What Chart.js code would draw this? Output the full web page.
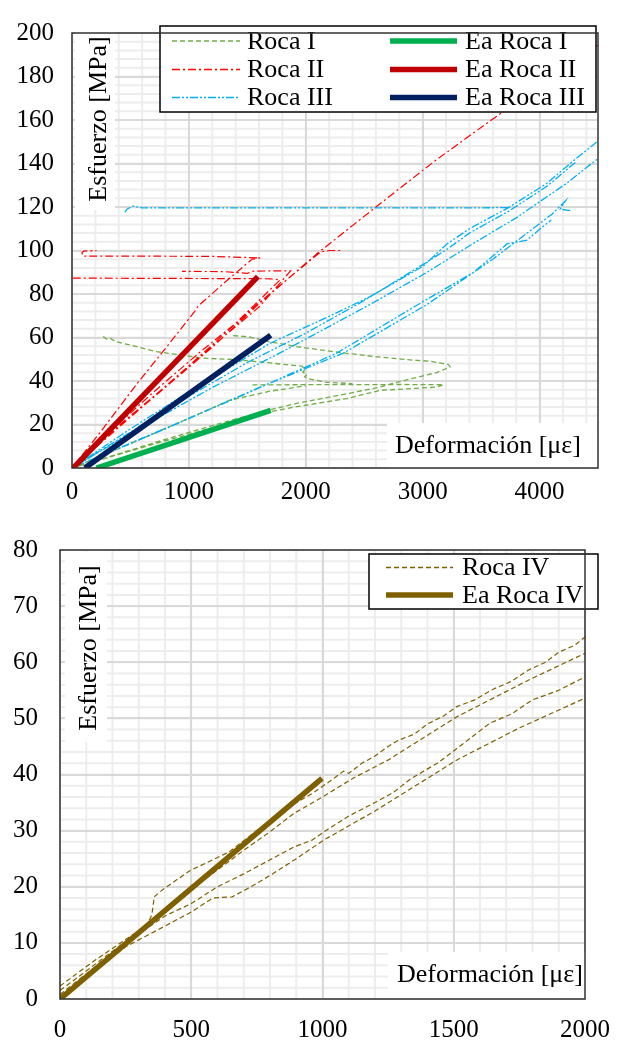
<!DOCTYPE html>
<html><head><meta charset="utf-8">
<script src="https://cdn.jsdelivr.net/npm/chart.js@4.4.0/dist/chart.umd.min.js"></script>
<style>
html,body{margin:0;padding:0;background:#fff;}
#w1{position:absolute;left:0;top:0;width:626px;height:510px;}
#w2{position:absolute;left:0;top:510px;width:626px;height:532px;}
</style></head><body>
<div id="w1"><canvas id="c1" width="626" height="510"></canvas></div>
<div id="w2"><canvas id="c2" width="626" height="532"></canvas></div>
<script>
// ===== Top chart: tick labels =====
const topXTicks = [0,1000,2000,3000,4000];
const topYTicks = [0,20,40,60,80,100,120,140,160,180,200];

// ===== Roca I (green dashed) =====
const rocaI_x1 = [0,350,700,1000,1300,1636,1922,2350,2635,2900,3121,3178,2800,2400,2000,1520];
const rocaI_y1 = [0,5.5,11,15.5,20,25.3,28.2,31.9,35.7,36.5,37.2,38.3,38.4,38.3,38.3,38.2];
const rocaI_x2 = [266,300,330,370,552,723,922,1122,1408,1693,1965,1995,1975,2010,1990,2021,2179,2400];
const rocaI_y2 = [60.5,59.2,59.6,58.2,55.8,53.5,52,50.5,49.8,48.3,46.8,45.5,44,43,42,41,39.4,38.8];
const rocaI_x3 = [1379,1522,1693,1922,2293,2578,2864,3064,3220,3235,3121,2778,2635,2293,1922,1636,1200,800,400,0];
const rocaI_y3 = [60.9,60.2,58,55.8,53.1,51.3,49.8,49.1,47.6,46.5,43.9,39.4,37.2,33.5,29.7,26,19.5,13.2,6.5,0];
const rocaI_x4 = [0,450,900,1351,1693,2000];
const rocaI_y4 = [0,10,20.5,31.2,35.3,37.8];

// ===== Roca II (red dash-dot) =====
const rocaII_x1 = [0,250,560,800,1050,1080,1300,1540,1610,1200,600,92,85,100,210];
const rocaII_y1 = [0,17,39,55,72,74.5,85,96,96.6,97.3,97.4,97.4,99,99.7,100];
const rocaII_x2 = [0,300,700,1100,1400,1780,1700,1200,600,0];
const rocaII_y2 = [0,15.5,35,53.5,66.5,86.5,87,87.1,87.2,87.3];
const rocaII_x3 = [0,400,900,1300,1600,1870,1700,1550,1500,1300,940];
const rocaII_y3 = [0,19.5,42,60.5,74,90.6,90.6,90.5,89.5,90.3,90.4];
const rocaII_x4 = [0,500,1000,1600,2100,2140,2200,2320];
const rocaII_y4 = [0,23.5,47,76,98.2,99.5,100,100];
const rocaII_x5 = [0,600,1200,1600,2100,2600,3100,3600,4100,4540];
const rocaII_y5 = [0,28,55.5,75.5,98.7,120,141,160.5,179,196];

// ===== Roca III (blue dash-dot-dot) =====
const rocaIII_x1 = [452,470,520,600,1500,2500,3400,3734];
const rocaIII_y1 = [117.5,119,120.4,119.6,119.6,119.6,119.6,119.7];
const rocaIII_x2 = [0,500,1000,1693,2179,2550,3007,3207,3400,3734,4063,4306,4540];
const rocaIII_y2 = [0,18,35,57.3,69.2,78.8,92.9,103,110,119.7,130.9,142,152];
const rocaIII_x3 = [4306,4063,3734,3400,3207,3000,2500,2000,1500,1000,500,0];
const rocaIII_y3 = [140.5,129.5,118,108,100.5,93.5,77,62,48.5,33,16.5,0];
const rocaIII_x4 = [0,600,1200,1779,2550,3035,3435,3800,4234,4540];
const rocaIII_y4 = [0,19,37,52.9,75.2,89.9,103.3,115,131,144];
const rocaIII_x5 = [0,700,1400,2264,3006,3435,3721,3892,4006,4100];
const rocaIII_y5 = [0,16,32,52.8,76.6,89.9,103,104.8,110,114];
const rocaIII_x6 = [0,800,1600,2321,3035,3600,4106,4220,4177,4277];
const rocaIII_y6 = [0,18,37,52.8,75.1,96,116.7,122.7,119,118.2];

// ===== Ea lines (top) =====
const eaI_x = [210,1700],   eaI_y = [0,26.5];
const eaII_x = [10,1590],   eaII_y = [0,88];
const eaIII_x = [110,1700], eaIII_y = [0,61];

// ===== Bottom chart =====
const botXTicks = [0,500,1000,1500,2000];
const botYTicks = [0,10,20,30,40,50,60,70,80];
const rocaIV_x1 = [0,136,272,330,350,359,397,496,560,644,700,768,830,900,960,1028,1080,1100,1150,1200,1250,1289,1350,1400,1460,1512,1580,1650,1720,1784,1850,1900,1960,2000];
const rocaIV_y1 = [2.3,7,11.3,13,15,18.2,19.7,22.9,24.3,26.2,28.2,30.7,32.6,35,36.6,38.8,40.6,40.2,42,43.3,45,46.1,47.2,49,50.4,52.1,53.3,55.2,56.6,58.6,60,61.8,63,64.5];
const rocaIV_x2 = [0,200,300,400,500,600,700,800,892,1000,1115,1251,1512,1784,2000];
const rocaIV_y2 = [1.5,8.5,12,15.5,19.5,23,26.5,29.8,33.1,36,39.3,42.6,50.3,56.8,61.6];
const rocaIV_x3 = [0,250,400,500,600,700,800,892,960,1016,1100,1200,1270,1338,1437,1500,1636,1720,1800,1900,2000];
const rocaIV_y3 = [0.8,10,14.8,17,20,22.3,24.8,27.1,28.3,30.1,32.6,35,36.8,39.3,42,44.2,49.1,50.8,53.3,55,57.4];
const rocaIV_x4 = [0,250,400,500,582,656,720,800,900,1004,1200,1512,1750,2000];
const rocaIV_y4 = [0.3,9.3,13,15.5,18,18.2,19.8,22,25,28.3,33.5,42.6,48.3,53.6];
const eaIV_x = [0,998], eaIV_y = [0,39.3];

// ===== helpers =====
function seg(xs, ys){ return xs.map((x,i)=>({x:x, y:ys[i]})); }
function join(){ const out=[]; Array.from(arguments).forEach((s,i)=>{ if(i>0) out.push({x:s[0].x, y:null}); s.forEach(p=>out.push(p)); }); return out; }

const FONT = "'Liberation Serif', 'Times New Roman', serif";

const decor = {
  id:'decor',
  beforeDraw(chart, args, o){
    const {ctx, chartArea:a, scales:{x,y}} = chart;
    ctx.save();
    ctx.fillStyle='#fff'; ctx.fillRect(0,0,chart.width,chart.height);
    ctx.strokeStyle='#EDEDED'; ctx.lineWidth=2;
    for(let v=x.min; v<=x.max+1e-6; v+=o.minorX){ const p=x.getPixelForValue(v); ctx.beginPath(); ctx.moveTo(p,a.top); ctx.lineTo(p,a.bottom); ctx.stroke(); }
    for(let v=y.min; v<=y.max+1e-6; v+=o.minorY){ const p=y.getPixelForValue(v); ctx.beginPath(); ctx.moveTo(a.left,p); ctx.lineTo(a.right,p); ctx.stroke(); }
    ctx.restore();
  },
  afterDatasetsDraw(chart, args, o){
    const {ctx, chartArea:a} = chart;
    ctx.save();
    const yt=o.yTitle;
    ctx.fillStyle='#fff'; ctx.fillRect(yt.bx, yt.by, yt.bw, yt.bh);
    ctx.translate(yt.cx, yt.cy); ctx.rotate(-Math.PI/2);
    ctx.fillStyle='#000'; ctx.font='26px '+FONT; ctx.textAlign='center'; ctx.textBaseline='middle';
    ctx.fillText(yt.text,0,0);
    ctx.setTransform(1,0,0,1,0,0);
    const xt=o.xTitle;
    ctx.fillStyle='#fff'; ctx.fillRect(xt.bx, xt.by, xt.bw, xt.bh);
    ctx.fillStyle='#000'; ctx.font='26px '+FONT; ctx.textAlign='left'; ctx.textBaseline='alphabetic';
    ctx.fillText(xt.text, xt.tx, xt.ty);
    const L=o.legend;
    ctx.fillStyle='#fff'; ctx.fillRect(L.bx,L.by,L.bw,L.bh);
    ctx.strokeStyle='#000'; ctx.lineWidth=1.5; ctx.strokeRect(L.bx,L.by,L.bw,L.bh);
    L.items.forEach(it=>{
      const ds=chart.data.datasets[it.ds];
      ctx.beginPath(); ctx.setLineDash(ds.borderDash||[]);
      ctx.strokeStyle=ds.borderColor; ctx.lineWidth=it.lw||ds.borderWidth;
      ctx.moveTo(it.x0,it.y); ctx.lineTo(it.x1,it.y); ctx.stroke(); ctx.setLineDash([]);
      ctx.fillStyle='#000'; ctx.font='26px '+FONT; ctx.textAlign='left'; ctx.textBaseline='middle';
      ctx.fillText(ds.label, it.tx, it.y+1);
    });
    ctx.strokeStyle='#333'; ctx.lineWidth=1.5;
    ctx.strokeRect(a.left, a.top, a.right-a.left, a.bottom-a.top);
    ctx.restore();
  }
};

function line(label, data, color, width, dash, order){
  return {label, data, borderColor:color, backgroundColor:color, borderWidth:width, borderDash:dash, pointRadius:0, tension:0, fill:false, spanGaps:false, order};
}

const tickFont = {family:FONT, size:25};
const plainTick = v => String(v);

new Chart(document.getElementById('c1'), {
  type:'line',
  data:{ datasets:[
    line('Roca I', join(seg(rocaI_x1,rocaI_y1),seg(rocaI_x2,rocaI_y2),seg(rocaI_x3,rocaI_y3),seg(rocaI_x4,rocaI_y4)), '#70AD47', 1.3, [5,3], 3),
    line('Roca II', join(seg(rocaII_x1,rocaII_y1),seg(rocaII_x2,rocaII_y2),seg(rocaII_x3,rocaII_y3),seg(rocaII_x4,rocaII_y4),seg(rocaII_x5,rocaII_y5)), '#FF0000', 1.2, [8,3,2,3], 2),
    line('Roca III', join(seg(rocaIII_x1,rocaIII_y1),seg(rocaIII_x2,rocaIII_y2),seg(rocaIII_x3,rocaIII_y3),seg(rocaIII_x4,rocaIII_y4),seg(rocaIII_x5,rocaIII_y5),seg(rocaIII_x6,rocaIII_y6)), '#00B0F0', 1.3, [8,2,2,2,2,2], 1),
    line('Ea Roca I', seg(eaI_x,eaI_y), '#00B050', 5.5, [], 0),
    line('Ea Roca II', seg(eaII_x,eaII_y), '#C00000', 5.5, [], 0),
    line('Ea Roca III', seg(eaIII_x,eaIII_y), '#002060', 5.5, [], 0)
  ]},
  options:{
    responsive:false, animation:false, devicePixelRatio:1,
    layout:{padding:{top:20,right:28,left:0,bottom:0}},
    plugins:{ legend:{display:false}, tooltip:{enabled:false},
      decor:{ minorX:200, minorY:4,
        yTitle:{text:'Esfuerzo [MPa]', bx:75, by:22, bw:40, bh:188, cx:99, cy:119},
        xTitle:{text:'Deformación [με]', bx:387, by:423, bw:210, bh:45, tx:395, ty:453},
        legend:{bx:160, by:26, bw:436, bh:86, items:[
          {ds:0,x0:172,x1:240,tx:247,y:41,lw:1.6},{ds:1,x0:172,x1:240,tx:247,y:69.5,lw:1.4},{ds:2,x0:172,x1:240,tx:247,y:97.5,lw:1.6},
          {ds:3,x0:390,x1:457,tx:465,y:41},{ds:4,x0:390,x1:457,tx:465,y:69.5},{ds:5,x0:390,x1:457,tx:465,y:97.5}]}
      }
    },
    scales:{
      x:{type:'linear', min:0, max:4500,
        afterBuildTicks:s=>{ s.ticks = topXTicks.map(v=>({value:v})); },
        afterFit:s=>{ s.height=42; },
        ticks:{font:tickFont, color:'#000', padding:9, maxRotation:0, autoSkip:false, callback:plainTick},
        grid:{color:'#D9D9D9', lineWidth:2, drawTicks:false}, border:{display:false}},
      y:{type:'linear', min:0, max:200,
        afterBuildTicks:s=>{ s.ticks = topYTicks.map(v=>({value:v})); },
        afterFit:s=>{ s.width=72; },
        ticks:{font:tickFont, color:'#000', padding:18, autoSkip:false, callback:plainTick},
        grid:{color:'#D9D9D9', lineWidth:2, drawTicks:false}, border:{display:false}}
    }
  },
  plugins:[decor]
});

new Chart(document.getElementById('c2'), {
  type:'line',
  data:{ datasets:[
    line('Roca IV', join(seg(rocaIV_x1,rocaIV_y1),seg(rocaIV_x2,rocaIV_y2),seg(rocaIV_x3,rocaIV_y3),seg(rocaIV_x4,rocaIV_y4)), '#7F6000', 1.2, [5,3], 1),
    line('Ea Roca IV', seg(eaIV_x,eaIV_y), '#7F6000', 5.5, [], 0)
  ]},
  options:{
    responsive:false, animation:false, devicePixelRatio:1,
    layout:{padding:{top:40,right:28,left:0,bottom:0}},
    plugins:{ legend:{display:false}, tooltip:{enabled:false},
      decor:{ minorX:100, minorY:2,
        yTitle:{text:'Esfuerzo [MPa]', bx:65, by:42, bw:42, bh:190, cx:89, cy:138},
        xTitle:{text:'Deformación [με]', bx:388, by:442, bw:209, bh:46, tx:397, ty:472},
        legend:{bx:369, by:44, bw:229, bh:55, items:[
          {ds:0,x0:386,x1:453,tx:462,y:57.5,lw:1.4},{ds:1,x0:386,x1:453,tx:462,y:85}]}
      }
    },
    scales:{
      x:{type:'linear', min:0, max:2000,
        afterBuildTicks:s=>{ s.ticks = botXTicks.map(v=>({value:v})); },
        afterFit:s=>{ s.height=43; },
        ticks:{font:tickFont, color:'#000', padding:16, maxRotation:0, autoSkip:false, callback:plainTick},
        grid:{color:'#D9D9D9', lineWidth:2, drawTicks:false}, border:{display:false}},
      y:{type:'linear', min:0, max:80,
        afterBuildTicks:s=>{ s.ticks = botYTicks.map(v=>({value:v})); },
        afterFit:s=>{ s.width=60; },
        ticks:{font:tickFont, color:'#000', padding:22, autoSkip:false, callback:plainTick},
        grid:{color:'#D9D9D9', lineWidth:2, drawTicks:false}, border:{display:false}}
    }
  },
  plugins:[decor]
});
</script>
</body></html>
